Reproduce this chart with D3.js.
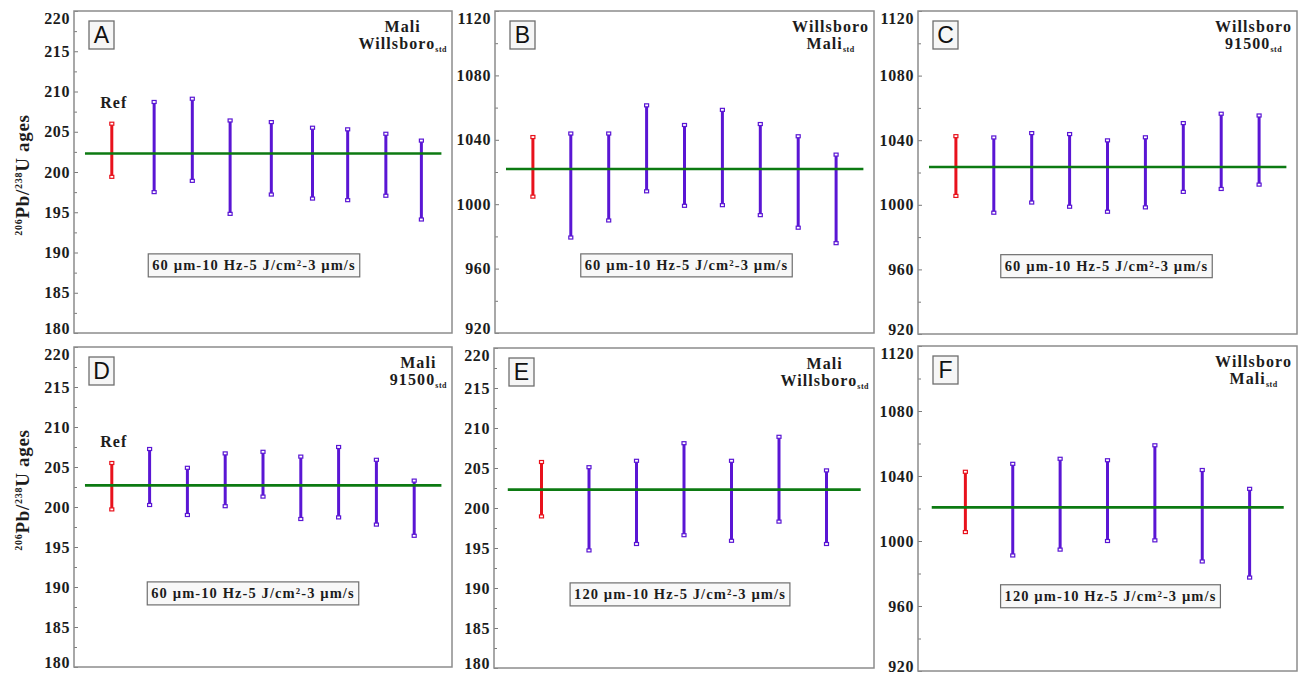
<!DOCTYPE html>
<html>
<head>
<meta charset="utf-8">
<script src="https://cdn.jsdelivr.net/npm/d3@7"></script>
<style>
  html, body { margin: 0; padding: 0; background: #fff; }
  svg { display: block; }
  .tick text { font-family: "Liberation Serif", "Times New Roman", serif; font-weight: bold; font-size: 16px; letter-spacing: 0.6px; fill: #1c1c1c; }
  .tick line { stroke: #7a7a7a; stroke-width: 1; }
</style>
</head>
<body>
<svg id="chart" width="1303" height="674"></svg>
<script>
// ---- Panel metadata ----
const panelIds = ["A", "B", "C", "D", "E", "F"];
const sampleNames = ["Mali", "Willsboro", "Willsboro", "Mali", "Mali", "Willsboro"];
const standardNames = ["Willsboro", "Mali", "91500", "91500", "Willsboro", "Mali"];
const conditionLabels = [
  "60 µm-10 Hz-5 J/cm²-3 µm/s",
  "60 µm-10 Hz-5 J/cm²-3 µm/s",
  "60 µm-10 Hz-5 J/cm²-3 µm/s",
  "60 µm-10 Hz-5 J/cm²-3 µm/s",
  "120 µm-10 Hz-5 J/cm²-3 µm/s",
  "120 µm-10 Hz-5 J/cm²-3 µm/s"
];
const refLabelPanels = ["A", "D"];

// ---- Axis ticks (Ma) ----
const maliAgeTicks = [180, 185, 190, 195, 200, 205, 210, 215, 220];
const maliMinorTicks = [182.5, 187.5, 192.5, 197.5, 202.5, 207.5, 212.5, 217.5];
const willsAgeTicks = [920, 960, 1000, 1040, 1080, 1120];
const willsMinorTicks = [940, 980, 1020, 1060, 1100];

// ---- 206Pb/238U ages and 2s errors (first point = reference value) ----
const positionsA = [1, 2.12, 3.13, 4.13, 5.22, 6.31, 7.24, 8.25, 9.19];
const agesA = [202.7, 203.1, 204.0, 200.6, 201.7, 201.1, 200.9, 200.9, 199.0];
const errsA = [3.3, 5.6, 5.1, 5.8, 4.5, 4.4, 4.4, 3.85, 4.9];

const positionsB = [1, 2, 3, 4, 5, 6, 7, 8, 9];
const agesB = [1023.2, 1011.6, 1016.9, 1034.7, 1024.1, 1029.0, 1021.5, 1013.8, 1003.3];
const errsB = [18.5, 32.3, 27.0, 26.7, 25.1, 29.6, 28.3, 28.4, 27.5];

const positionsC = [1, 2, 3, 4, 5, 6, 7, 8, 9];
const agesC = [1024.0, 1018.4, 1022.9, 1021.3, 1017.8, 1020.1, 1029.3, 1033.1, 1033.9];
const errsC = [18.5, 23.3, 21.5, 22.5, 22.1, 21.7, 21.3, 23.3, 21.4];

const positionsD = [1, 2, 3, 4, 5, 6, 7, 8, 9];
const agesD = [202.6, 203.75, 201.95, 203.4, 204.1, 202.4, 203.1, 201.85, 199.85];
const errsD = [2.9, 3.5, 2.95, 3.3, 2.8, 3.9, 4.4, 4.05, 3.45];

const positionsE = [1, 2, 3, 4, 5, 6, 7];
const agesE = [202.35, 199.9, 200.7, 202.35, 200.9, 203.6, 200.1];
const errsE = [3.4, 5.2, 5.2, 5.75, 5.0, 5.3, 4.6];

const positionsF = [1, 2, 3, 4, 5, 6, 7];
const agesF = [1024.05, 1019.3, 1022.65, 1024.85, 1029.65, 1015.55, 1004.8];
const errsF = [18.55, 28.2, 27.95, 24.85, 29.25, 28.15, 27.3];

// weighted mean ages (horizontal lines)
const meanAges = [202.3, 1021.9, 1023.4, 202.7, 202.3, 1020.7];

// ---- Layout ----
const frames = [
  { x0: 74,  x1: 452,  y0: 11,  y1: 333 },
  { x0: 495, x1: 874,  y0: 11,  y1: 333 },
  { x0: 918, x1: 1297, y0: 11,  y1: 334 },
  { x0: 74,  x1: 452,  y0: 347, y1: 667 },
  { x0: 494, x1: 874,  y0: 348, y1: 668 },
  { x0: 918, x1: 1297, y0: 346, y1: 671 }
];
const condOffsetX = [-9, 2, -1, -10, -4, 3];
const condFracY = [0.79, 0.79, 0.79, 0.77, 0.77, 0.77];

const COLORS = { ref: "#e8121c", sample: "#5a16d4", mean: "#0c7a12", frame: "#8c8c8c", text: "#1c1c1c" };
const SERIF = '"Liberation Serif", "Times New Roman", serif';

const positions = [positionsA, positionsB, positionsC, positionsD, positionsE, positionsF];
const ages = [agesA, agesB, agesC, agesD, agesE, agesF];
const errs = [errsA, errsB, errsC, errsD, errsE, errsF];
const isMali = [true, false, false, true, true, false];

const svg = d3.select("#chart");
svg.append("rect").attr("width", 1303).attr("height", 674).attr("fill", "#fff");

panelIds.forEach((id, p) => {
  const f = frames[p];
  const n = ages[p].length;
  const yDomain = isMali[p] ? [180, 220] : [920, 1120];
  const y = d3.scaleLinear().domain(yDomain).range([f.y1, f.y0]);
  const x = d3.scaleLinear().domain([0, n + 1]).range([f.x0, f.x1]);
  const g = svg.append("g").attr("class", "panel panel-" + id);

  // minor ticks
  g.append("g")
    .attr("transform", `translate(${f.x0},0)`)
    .call(d3.axisLeft(y).tickValues(isMali[p] ? maliMinorTicks : willsMinorTicks)
      .tickFormat("").tickSizeInner(-3).tickSizeOuter(0))
    .call(a => a.select(".domain").remove());

  // major ticks + labels
  const majors = isMali[p] ? maliAgeTicks : willsAgeTicks;
  const yAxis = g.append("g")
    .attr("transform", `translate(${f.x0},0)`)
    .call(d3.axisLeft(y).tickValues(majors).tickFormat(d3.format("d"))
      .tickSizeInner(-4).tickSizeOuter(0).tickPadding(4))
    .call(a => a.select(".domain").remove());
  yAxis.selectAll(".tick text")
    .attr("dy", d => d === majors[majors.length - 1] ? "0.78em" : d === majors[0] ? "0.0em" : "0.32em");

  // frame
  g.append("rect")
    .attr("x", f.x0).attr("y", f.y0)
    .attr("width", f.x1 - f.x0).attr("height", f.y1 - f.y0)
    .attr("fill", "none").attr("stroke", COLORS.frame).attr("stroke-width", 1.5);

  // error bars
  const idx = d3.range(n);
  const col = i => (i === 0 ? COLORS.ref : COLORS.sample);
  g.selectAll("line.bar").data(idx).join("line")
    .attr("class", "bar")
    .attr("x1", i => x(positions[p][i])).attr("x2", i => x(positions[p][i]))
    .attr("y1", i => y(ages[p][i] - errs[p][i]))
    .attr("y2", i => y(ages[p][i] + errs[p][i]))
    .attr("stroke", col).attr("stroke-width", 3);

  const caps = idx.flatMap(i => [
    { i, v: ages[p][i] + errs[p][i] },
    { i, v: ages[p][i] - errs[p][i] }
  ]);
  g.selectAll("rect.cap").data(caps).join("rect")
    .attr("class", "cap")
    .attr("x", d => x(positions[p][d.i]) - 2)
    .attr("y", d => y(d.v) - 1.5)
    .attr("width", 4).attr("height", 3)
    .attr("fill", "#fff")
    .attr("stroke", d => col(d.i)).attr("stroke-width", 1.2);

  // mean line
  g.append("line")
    .attr("x1", x(0.29)).attr("x2", x(n + 0.72))
    .attr("y1", y(meanAges[p])).attr("y2", y(meanAges[p]))
    .attr("stroke", COLORS.mean).attr("stroke-width", 2.6);

  // "Ref" label over the reference bar
  if (refLabelPanels.includes(id)) {
    g.append("text")
      .attr("x", x(positions[p][0]) + 2)
      .attr("y", y(ages[p][0] + errs[p][0]) - 16)
      .attr("text-anchor", "middle")
      .style("font-family", SERIF).style("font-weight", "bold")
      .style("font-size", "16px").style("letter-spacing", "1px")
      .attr("fill", COLORS.text)
      .text("Ref");
  }

  // panel letter box
  g.append("rect")
    .attr("x", f.x0 + 15).attr("y", f.y0 + 10)
    .attr("width", 25).attr("height", 28)
    .attr("fill", "#f6f6f6").attr("stroke", "#6e6e6e").attr("stroke-width", 1.3);
  g.append("text")
    .attr("x", f.x0 + 15 + 12.5).attr("y", f.y0 + 10 + 22)
    .attr("text-anchor", "middle")
    .style("font-family", '"Liberation Sans", Arial, sans-serif')
    .style("font-size", "23px")
    .attr("fill", "#111")
    .text(id);

  // sample / standard label (top right)
  const lbl = g.append("g");
  const l1 = lbl.append("text")
    .attr("y", f.y0 + 21)
    .attr("text-anchor", "middle")
    .style("font-family", SERIF).style("font-weight", "bold")
    .style("font-size", "16px").style("letter-spacing", "1.1px")
    .attr("fill", COLORS.text)
    .text(sampleNames[p]);
  const l2 = lbl.append("text")
    .attr("y", f.y0 + 38)
    .attr("text-anchor", "middle")
    .style("font-family", SERIF).style("font-weight", "bold")
    .style("font-size", "16px").style("letter-spacing", "1.1px")
    .attr("fill", COLORS.text);
  l2.append("tspan").text(standardNames[p]);
  l2.append("tspan").attr("dy", 3).style("font-size", "8px").style("letter-spacing", "0.5px").text("std");
  const wMax = Math.max(l1.node().getComputedTextLength(), l2.node().getComputedTextLength());
  const cx = f.x1 - 5 - wMax / 2;
  l1.attr("x", cx);
  l2.attr("x", cx);

  // condition box
  const cy = f.y0 + condFracY[p] * (f.y1 - f.y0);
  const ccx = (f.x0 + f.x1) / 2 + condOffsetX[p];
  const condG = g.append("g");
  const condBox = condG.append("rect")
    .attr("fill", "#f8f8f8").attr("stroke", "#6e6e6e").attr("stroke-width", 1.2);
  const cond = condG.append("text")
    .attr("x", ccx).attr("y", cy + 5)
    .attr("text-anchor", "middle")
    .style("font-family", SERIF).style("font-weight", "bold")
    .style("font-size", "14.5px").style("letter-spacing", "1.1px")
    .attr("fill", COLORS.text)
    .text(conditionLabels[p]);
  const cw = cond.node().getComputedTextLength();
  condBox
    .attr("x", ccx - cw / 2 - 4).attr("y", cy - 11.5)
    .attr("width", cw + 8).attr("height", 23);
});

// y-axis titles for the left column
const yTitleCenters = [175, 490];
yTitleCenters.forEach(cy => {
  const t = svg.append("text")
    .attr("transform", `translate(29,${cy}) rotate(-90)`)
    .attr("text-anchor", "middle")
    .style("font-family", SERIF).style("font-weight", "bold")
    .style("font-size", "19px").style("letter-spacing", "0.7px")
    .attr("fill", "#1c1c1c");
  t.append("tspan").style("font-size", "10px").attr("dy", -7).text("206");
  t.append("tspan").attr("dy", 7).text("Pb/");
  t.append("tspan").style("font-size", "10px").attr("dy", -7).text("238");
  t.append("tspan").attr("dy", 7).text("U ages");
});
</script>
</body>
</html>
